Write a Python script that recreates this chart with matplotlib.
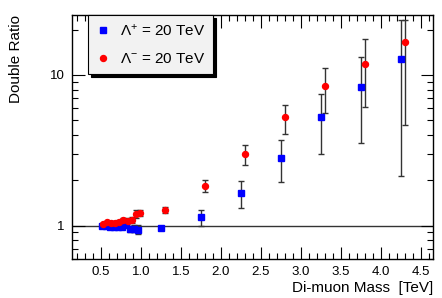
import numpy as np
import matplotlib
matplotlib.use("Agg")
import matplotlib.pyplot as plt
from matplotlib.ticker import MultipleLocator, LogLocator, NullFormatter, FixedLocator, FixedFormatter

plt.rcParams['font.family'] = ['Liberation Sans', 'DejaVu Sans']
plt.rcParams['mathtext.fontset'] = 'custom'
plt.rcParams['mathtext.rm'] = 'Liberation Sans'
plt.rcParams['mathtext.it'] = 'Liberation Sans:italic'

# Lambda+ = 20 TeV (blue squares)
mass_p = [0.51, 0.56, 0.61, 0.66, 0.71, 0.76, 0.81, 0.86, 0.91, 0.97,
          1.25, 1.75, 2.25, 2.75, 3.25, 3.75, 4.25]
ratio_p = [1.00, 0.99, 0.975, 0.975, 0.98, 0.985, 1.015, 0.95, 0.955, 0.94,
           0.96, 1.14, 1.64, 2.81, 5.22, 8.3, 12.7]
lo_p = [0.985, 0.975, 0.955, 0.955, 0.955, 0.955, 0.98, 0.905, 0.905, 0.875,
        0.93, 1.0, 1.31, 1.96, 3.0, 3.53, 2.15]
hi_p = [1.015, 1.005, 0.995, 0.995, 1.005, 1.015, 1.05, 0.995, 1.005, 1.015,
        0.99, 1.26, 1.98, 3.69, 7.43, 13.1, 23.2]

# Lambda- = 20 TeV (red circles)
mass_m = [0.53, 0.58, 0.63, 0.68, 0.73, 0.78, 0.84, 0.89, 0.94, 0.99,
          1.30, 1.80, 2.30, 2.80, 3.30, 3.80, 4.30]
ratio_m = [1.02, 1.06, 1.04, 1.045, 1.06, 1.09, 1.075, 1.085, 1.195, 1.21,
           1.27, 1.84, 2.97, 5.22, 8.42, 11.8, 16.6]
lo_m = [1.005, 1.04, 1.02, 1.02, 1.03, 1.05, 1.035, 1.035, 1.13, 1.15,
        1.22, 1.68, 2.51, 4.05, 5.58, 6.08, 4.66]
hi_m = [1.035, 1.08, 1.06, 1.07, 1.09, 1.13, 1.115, 1.135, 1.26, 1.27,
        1.32, 2.0, 3.42, 6.35, 11.2, 17.4, 23.0]

labels = [r'$\mathregular{\Lambda^{+}}$ = 20 TeV', r'$\mathregular{\Lambda^{-}}$ = 20 TeV']

yerr_p = [np.array(ratio_p) - np.array(lo_p), np.array(hi_p) - np.array(ratio_p)]
yerr_m = [np.array(ratio_m) - np.array(lo_m), np.array(hi_m) - np.array(ratio_m)]

fig = plt.figure(figsize=(4.42, 2.98), dpi=100)
ax = fig.add_axes([71.5/442, 39/298, (433-71.5)/442, (259-15)/298])

ax.axhline(1.0, color='#333333', lw=1.0, zorder=1)

eb_p = ax.errorbar(mass_p, ratio_p, yerr=yerr_p, fmt='s', color='blue', ms=4,
                   ecolor='#333333', elinewidth=1, capsize=2, capthick=1, zorder=3)
eb_m = ax.errorbar(mass_m, ratio_m, yerr=yerr_m, fmt='o', color='red', ms=4.3,
                   ecolor='#333333', elinewidth=1, capsize=2, capthick=1, zorder=3)

ax.set_yscale('log')
ax.set_xlim(0.135, 4.65)
ax.set_ylim(0.6, 25)

ax.xaxis.set_major_locator(MultipleLocator(0.5))
ax.xaxis.set_minor_locator(MultipleLocator(0.1))
ax.yaxis.set_major_locator(FixedLocator([1, 10]))
ax.yaxis.set_major_formatter(FixedFormatter(['1', '10']))
ax.yaxis.set_minor_locator(LogLocator(base=10, subs=np.arange(2, 10)))
ax.yaxis.set_minor_formatter(NullFormatter())
ax.tick_params(which='both', direction='in', top=True, right=True,
               labelsize=9.5, pad=5, width=0.8)
ax.tick_params(which='major', length=9)
ax.tick_params(which='minor', length=4.5)
for s in ax.spines.values():
    s.set_linewidth(1.0)

ax.set_xlabel('Di-muon Mass  [TeV]', fontsize=11, loc='right', labelpad=2)
ax.set_ylabel('Double Ratio', fontsize=11, loc='top', labelpad=19)

leg = ax.legend([eb_p[0], eb_m[0]], labels, loc='upper left',
                bbox_to_anchor=(88/442, 1 - 15/298),
                bbox_transform=fig.transFigure, borderaxespad=0,
                fancybox=False, fontsize=11, handlelength=1.0,
                handletextpad=0.6, labelspacing=0.9, borderpad=0.5,
                shadow={'color': 'black', 'alpha': 1.0}, framealpha=1,
                facecolor='#f2f2f2', edgecolor='black')
leg.get_frame().set_linewidth(0.8)

fig.savefig('out.png', dpi=100)
